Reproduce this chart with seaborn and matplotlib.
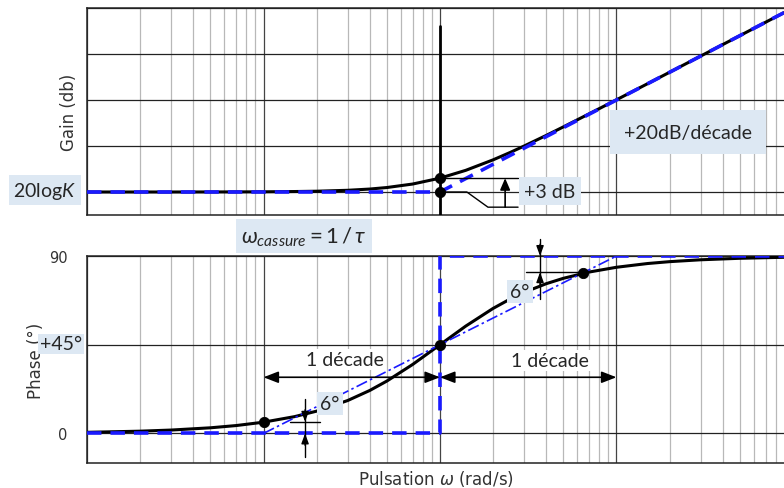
import numpy as np
import pandas as pd
import matplotlib
matplotlib.use("Agg")
import matplotlib.pyplot as plt
import seaborn as sns
from matplotlib.ticker import LogLocator, NullFormatter, FixedLocator

# Values (pulsation in rad/s, omega_c = 1)
omega = [0.01, 0.02, 0.03, 0.05, 0.07, 0.1, 0.15, 0.2, 0.3, 0.4, 0.5, 0.7, 1,
         1.4, 2, 2.5, 3, 4, 5, 7, 10, 15, 20, 30, 50, 89]
gain_db = [0.0, 0.0, 0.0, 0.01, 0.02, 0.04, 0.1, 0.17, 0.37, 0.64, 0.97, 1.73, 3.01,
           4.71, 6.99, 8.6, 10.0, 12.3, 14.15, 17.0, 20.04, 23.54, 26.03, 29.55, 33.98, 38.99]
phase_deg = [0.57, 1.15, 1.72, 2.86, 4.0, 5.71, 8.53, 11.31, 16.7, 21.8, 26.57, 34.99, 45.0,
             54.46, 63.43, 68.2, 71.57, 75.96, 78.69, 81.87, 84.29, 86.19, 87.14, 88.09, 88.85, 89.36]

# asymptotes
gain_asym_w = [0.01, 1, 89]
gain_asym = [0, 0, 38.99]
phase_asym_w = [0.01, 1, 1, 89]
phase_asym = [0, 0, 90, 90]
tangent_w = [0.1, 10]
tangent_phase = [0, 90]

# marked points
gain_pts_w = [1, 1]
gain_pts = [0, 3.01]
phase_pts_w = [0.1, 1, 6.5]
phase_pts = [5.7, 45, 81.3]

BLUE = '#1a1aff'
BOX = '#dde8f3'
ANN_FONT = 'Lato'

sns.set_style("white")
plt.rcParams['font.family'] = ['DejaVu Sans']
plt.rcParams['mathtext.fontset'] = 'custom'
plt.rcParams['mathtext.rm'] = 'Lato'
plt.rcParams['mathtext.it'] = 'Lato:italic'

fig = plt.figure(figsize=(7.84, 4.89), dpi=100)
ax1 = fig.add_axes([0.111, 0.5583, 0.889, 0.4233])
ax2 = fig.add_axes([0.111, 0.0511, 0.889, 0.4233])

df_g = pd.DataFrame({'w': omega, 'g': gain_db, 'p': phase_deg})

for ax in (ax1, ax2):
    ax.set_xscale('log')
    ax.set_xlim(0.01, 89)
    ax.xaxis.set_major_locator(LogLocator(base=10, numticks=10))
    ax.xaxis.set_minor_locator(LogLocator(base=10, subs=np.arange(2, 10), numticks=20))
    ax.xaxis.set_major_formatter(NullFormatter())
    ax.xaxis.set_minor_formatter(NullFormatter())
    ax.grid(True, which='major', axis='x', color='#444444', lw=0.9)
    ax.grid(True, which='minor', axis='x', color='#b8b8b8', lw=0.9)
    ax.grid(True, which='major', axis='y', color='#222222', lw=0.9)
    ax.tick_params(axis='x', which='major', length=7, width=1, direction='out', color='#333333')
    ax.tick_params(axis='x', which='minor', length=4, width=0.8, direction='out', color='#555555')
    ax.tick_params(axis='y', which='major', length=7, width=1, direction='out', pad=7,
                   labelsize=10.5, colors='#333333')
    ax.spines['right'].set_visible(False)
    for s in ['left', 'bottom', 'top']:
        ax.spines[s].set_color('#222222')
        ax.spines[s].set_linewidth(1.1)
    ax.set_xlabel('')

# ---------- gain ----------
ax1.set_ylim(-5, 40)
ax1.yaxis.set_major_locator(FixedLocator([0, 10, 20, 30, 40]))
ax1.set_yticklabels([])
sns.lineplot(data=df_g, x='w', y='g', color='black', lw=2.2, ax=ax1, zorder=4)
sns.lineplot(x=gain_asym_w, y=gain_asym, color=BLUE, lw=2.6, ax=ax1, zorder=5,
             estimator=None, sort=False, dashes=False, linestyle=(0, (4, 2.5)))
ax1.plot([1, 1], [36, -5], color='black', lw=2, zorder=3)
sns.scatterplot(x=gain_pts_w, y=gain_pts, color='black', s=55, ax=ax1, zorder=6,
                edgecolor='black')
ax1.set_ylabel('Gain (db)', fontsize=12, color='#333333')
ax1.yaxis.set_label_coords(-0.013, 0.5)
ax1.set_xlabel('')

# +3 dB annotation
ax1.plot([1, 2.77], [3.01, 3.01], color='black', lw=1, zorder=6)
ax1.plot([1, 1.42, 1.87, 2.77], [0, 0, -3.3, -3.3], color='black', lw=1, zorder=6)
ax1.annotate('', xy=(2.34, 3.01), xytext=(2.34, -3.3),
             arrowprops=dict(arrowstyle='-|>,head_length=0.7,head_width=0.3', color='black', lw=1.2,
                             shrinkA=0, shrinkB=0), zorder=6)
ax1.text(4.2, 0.2, '+3 dB', fontsize=14, family=ANN_FONT, ha='center', va='center', zorder=7,
         bbox=dict(boxstyle='square,pad=0.3', fc=BOX, ec='none'))
ax1.text(25.4, 13, '+20dB/décade', fontsize=14, family=ANN_FONT, ha='center', va='center', zorder=7,
         bbox=dict(boxstyle='square,pad=0.7', fc=BOX, ec='none'))
fig.text(45 / 784, 1 - 191 / 489, r'20log$\mathit{K}$', fontsize=14, family=ANN_FONT,
         ha='center', va='center', zorder=7,
         bbox=dict(boxstyle='square,pad=0.25', fc=BOX, ec='none'))

# ---------- phase ----------
ax2.set_ylim(-15, 90)
ax2.yaxis.set_major_locator(FixedLocator([0, 45, 90]))
ax2.set_yticklabels(['0', '', '90'])
sns.lineplot(data=df_g, x='w', y='p', color='black', lw=2.2, ax=ax2, zorder=4)
sns.lineplot(x=phase_asym_w, y=phase_asym, color=BLUE, lw=2.6, ax=ax2, zorder=5,
             estimator=None, sort=False, dashes=False, linestyle=(0, (4, 2.5)))
sns.lineplot(x=tangent_w, y=tangent_phase, color=BLUE, lw=1.2, ax=ax2, zorder=5,
             estimator=None, sort=False, dashes=False, linestyle=(0, (7, 2, 1.5, 2)))
sns.scatterplot(x=phase_pts_w, y=phase_pts, color='black', s=55, ax=ax2, zorder=6,
                edgecolor='black')
ax2.set_ylabel('Phase (°)', fontsize=12, color='#333333')
ax2.yaxis.set_label_coords(-0.06, 0.5)
ax2.set_xlabel(r'Pulsation $\omega$ (rad/s)', fontsize=12, color='#333333',
               math_fontfamily='dejavusans')
ax2.xaxis.set_label_coords(0.5, -0.025)

# 1 decade arrows
dec_style = dict(arrowstyle='<|-|>,head_length=0.9,head_width=0.35', color='black', lw=1.2,
                 shrinkA=0, shrinkB=0)
ax2.annotate('', xy=(0.1, 28.5), xytext=(1, 28.5), arrowprops=dec_style, zorder=6)
ax2.annotate('', xy=(1, 28.5), xytext=(10, 28.5), arrowprops=dec_style, zorder=6)
ax2.text(0.29, 37.3, '1 décade', fontsize=14, family=ANN_FONT, ha='center', va='center', zorder=7,
         bbox=dict(boxstyle='square,pad=0.1', fc='white', ec='none'))
ax2.text(4.2, 37.0, '1 décade', fontsize=14, family=ANN_FONT, ha='center', va='center', zorder=7,
         bbox=dict(boxstyle='square,pad=0.1', fc='white', ec='none'))

# 6 deg marks
small_arrow = dict(arrowstyle='-|>,head_length=0.6,head_width=0.22', color='black', lw=1,
                   shrinkA=0, shrinkB=0)
ax2.plot([0.141, 0.209], [5.9, 5.9], color='black', lw=1, zorder=6)
ax2.plot([0.172, 0.172], [17.3, -12.2], color='black', lw=1, zorder=6)
ax2.annotate('', xy=(0.172, 5.9), xytext=(0.172, 12), arrowprops=small_arrow, zorder=6)
ax2.annotate('', xy=(0.172, 0), xytext=(0.172, -6), arrowprops=small_arrow, zorder=6)
ax2.text(0.238, 15.3, '6°', fontsize=14, family=ANN_FONT, ha='center', va='center', zorder=7,
         bbox=dict(boxstyle='square,pad=0.15', fc=BOX, ec='none'))

ax2.plot([3.07, 6.3], [81.8, 81.8], color='black', lw=1, zorder=6)
ax2.plot([3.69, 3.69], [98.5, 68], color='black', lw=1, zorder=6, clip_on=False)
ax2.annotate('', xy=(3.69, 90), xytext=(3.69, 96), arrowprops=small_arrow, zorder=6,
             annotation_clip=False)
ax2.annotate('', xy=(3.69, 81.8), xytext=(3.69, 75), arrowprops=small_arrow, zorder=6)
ax2.text(2.84, 72, '6°', fontsize=14, family=ANN_FONT, ha='center', va='center', zorder=7,
         bbox=dict(boxstyle='square,pad=0.15', fc=BOX, ec='none'))

fig.text(61 / 784, 1 - 345 / 489, '+45°', fontsize=14, family=ANN_FONT, ha='center',
         va='center', zorder=7, bbox=dict(boxstyle='square,pad=0.1', fc=BOX, ec='none'))
fig.text(304 / 784, 1 - 237 / 489, r'$\omega_{cassure} = 1\,/\,\tau$', fontsize=16,
         ha='center', va='center', zorder=7,
         bbox=dict(boxstyle='square,pad=0.25', fc=BOX, ec='none'))

fig.savefig('out.png', dpi=100)
